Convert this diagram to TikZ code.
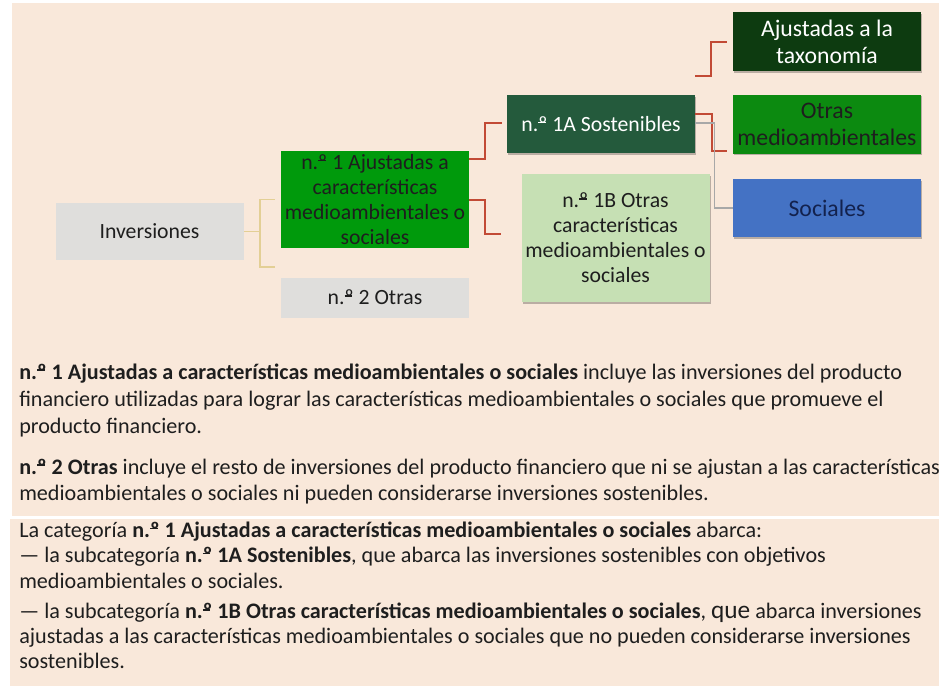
\documentclass[tikz,border=0pt]{standalone}
\usepackage{fontspec}
\setmainfont{Carlito}
\usepackage{tikz}
\usetikzlibrary{positioning,calc,shadows}
\definecolor{esgpanel}{HTML}{F9E8DA}
\definecolor{esggray}{HTML}{DFDEDC}
\definecolor{esggreen}{HTML}{009A0C}
\definecolor{esgforest}{HTML}{245A3C}
\definecolor{esgmint}{HTML}{C6E0B4}
\definecolor{esgdeep}{HTML}{0D3B10}
\definecolor{esgleaf}{HTML}{0C8A10}
\definecolor{esgblue}{HTML}{4472C4}
\definecolor{esgnavy}{HTML}{13224E}
\definecolor{esgink}{HTML}{1E1E1E}
\definecolor{esgred}{HTML}{C24A35}
\definecolor{esggold}{HTML}{E3CF95}
\definecolor{esgline}{HTML}{A8A8A8}
\newcommand{\nro}{n.\makebox[0pt][l]{\raisebox{0.78ex}{\rule{0.34em}{0.06em}}}º}
\tikzset{
  bx/.style={align=center, inner sep=0pt, minimum width=141pt, text=esgink, font=\fontsize{16.3}{18.8}\selectfont},
  bxr/.style={bx, font=\fontsize{17.8}{20.3}\selectfont},
  shd/.style={drop shadow={shadow xshift=0.8pt, shadow yshift=-1.2pt, opacity=0.25, fill=black}},
  lnk/.style={draw=esgred, line width=1.5pt},
  lnkg/.style={draw=esgline, line width=1pt},
  brk/.style={draw=esggold, line width=1.2pt},
  txt/.style={anchor=base west, align=left, inner sep=0pt, text=esgink},
}
\begin{document}
\begin{tikzpicture}[x=0.75pt, y=-0.75pt]
  \useasboundingbox (0,0) rectangle (939,686);
  \fill[esgpanel] (12,3) rectangle (939,516);
  \fill[esgpanel] (10,519) rectangle (939,686);

  \node[bx, fill=esggray, minimum height=42.75pt] (inv) at (149.5,231.5) {Inversiones};
  \node[bx, fill=esggreen, minimum height=72.75pt, text=esgink] (aj) at (375,199.5) {\nro{} 1 Ajustadas a\\características\\medioambientales o\\sociales};
  \node[bx, fill=esggray, minimum height=30pt, below=21.75pt of aj] (otras) {\nro{} 2 Otras};
  \node[bx, shd, fill=esgforest, minimum height=43.5pt, text=white] (sost) at (601,124) {\nro{} 1A Sostenibles};
  \node[bx, shd, fill=esgmint, minimum height=96pt] (otrcar) at (615.5,238) {\nro{} 1B Otras\\características\\medioambientales o\\sociales};
  \node[bxr, shd, fill=esgdeep, minimum height=44.25pt, text=white] (tax) at (827,41.5) {Ajustadas a la\\taxonomía};
  \node[bxr, shd, fill=esgleaf, minimum height=44.25pt, below=17.25pt of tax, text=esgink] (otrmed) {Otras\\medioambientales};
  \node[bxr, shd, fill=esgblue, minimum height=43.5pt, below=18.75pt of otrmed, text=esgnavy] (soc) {Sociales};

  \draw[brk] (inv.east) -- ++(16,0) coordinate (bj);
  \draw[brk] ($(aj.west)+(-6,0)$) -| (bj) |- ($(otras.north west)+(-6,-10)$);
  \draw[lnk] ($(aj.north east)+(0,8)$) -- ++(16,0) |- ($(sost.west)+(-5,-1)$);
  \draw[lnk] (aj.east) -- ++(16,0) |- ($(otrcar.west)+(-20,-4)$);
  \draw[lnk] ($(sost.north east)+(0,-19)$) -- ++(16,0) |- ($(tax.west)+(-6,0)$);
  \draw[lnk] ($(sost.east)+(0,-10)$) -- ++(17,0) |- ($(otrmed.south west)+(-6,-3)$);
  \draw[lnkg] ($(sost.east)+(0,-1)$) -- ++(19,0) |- (soc.west);

  \node[txt, font=\fontsize{16.6}{20.25}\selectfont] (p1) at (19,433) {\textbf{\nro{} 1 Ajustadas a características medioambientales o sociales} incluye las inversiones del producto\\financiero utilizadas para lograr las características medioambientales o sociales que promueve el\\producto financiero.};
  \node[txt, font=\fontsize{16.6}{19.5}\selectfont] (p2) at (19,500) {\textbf{\nro{} 2 Otras} incluye el resto de inversiones del producto financiero que ni se ajustan a las características\\medioambientales o sociales ni pueden considerarse inversiones sostenibles.};
  \node[txt, font=\fontsize{16.6}{19}\selectfont] (p3) at (19,588) {La categoría \textbf{\nro{} 1 Ajustadas a características medioambientales o sociales} abarca:\\— la subcategoría \textbf{\nro{} 1A Sostenibles}, que abarca las inversiones sostenibles con objetivos\\medioambientales o sociales.};
  \node[txt, font=\fontsize{16.6}{18.4}\selectfont] (p4) at (19,668) {— la subcategoría \textbf{\nro{} 1B Otras características medioambientales o sociales}, {\fontsize{19}{20}\selectfont que} abarca inversiones\\ajustadas a las características medioambientales o sociales que no pueden considerarse inversiones\\sostenibles.};
\end{tikzpicture}
\end{document}
